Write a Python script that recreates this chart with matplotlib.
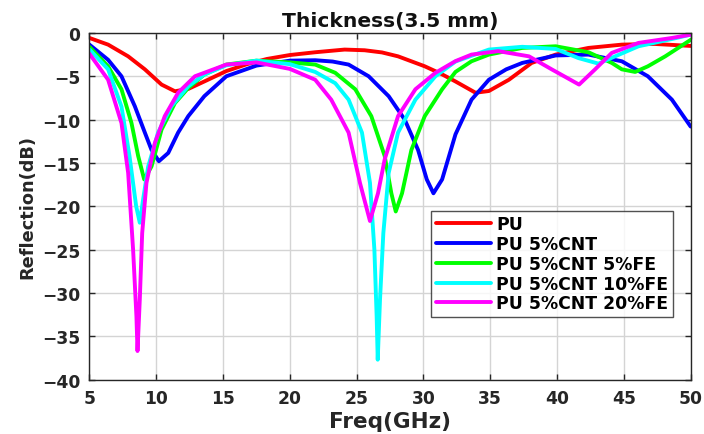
import matplotlib
matplotlib.use("Agg")
import matplotlib.pyplot as plt

plt.rcParams['font.family'] = ['DejaVu Sans']
plt.rcParams['font.weight'] = 'bold'

labels = ["PU", "PU 5%CNT", "PU 5%CNT 5%FE", "PU 5%CNT 10%FE", "PU 5%CNT 20%FE"]
colors = ["#ff0000", "#0000ff", "#00ff00", "#00ffff", "#ff00ff"]

f_pu = [5, 6.4, 7.9, 9.15, 10.4, 11.4, 12.4, 13.6, 15.25, 16.8, 18.3, 20, 21.9, 24.1, 25.6, 26.9, 28.1, 30.1, 31.3, 32.4, 33.9, 34.9, 36.4, 38.1, 39.9, 42.35, 44.85, 47.3, 50]
r_pu = [-0.58, -1.35, -2.7, -4.2, -5.96, -6.73, -6.46, -5.6, -4.4, -3.6, -3.0, -2.55, -2.23, -1.92, -2.0, -2.25, -2.7, -3.85, -4.7, -5.6, -6.9, -6.7, -5.4, -3.46, -2.5, -1.73, -1.35, -1.27, -1.5]

f_cnt = [5, 6.4, 7.4, 8.4, 9.15, 9.65, 10.2, 10.9, 11.64, 12.4, 13.6, 15.25, 17.5, 20, 21.9, 23.2, 24.4, 25.9, 27.4, 28.6, 29.6, 30.25, 30.75, 31.4, 32.4, 33.6, 34.9, 36.2, 37.4, 39.9, 42.35, 44.85, 46.8, 48.6, 50]
r_cnt = [-1.35, -3.1, -5.0, -8.46, -11.5, -13.5, -14.8, -13.85, -11.5, -9.6, -7.3, -5.0, -3.77, -3.2, -3.15, -3.3, -3.65, -5.0, -7.3, -10.0, -13.5, -16.9, -18.5, -16.9, -11.7, -7.7, -5.4, -4.2, -3.46, -2.6, -2.5, -3.27, -5.0, -7.7, -10.8]

f_fe5 = [5, 6.4, 7.4, 8.15, 8.65, 9.1, 9.65, 10.4, 11.4, 12.4, 13.6, 15.25, 17.5, 20, 21.9, 23.4, 24.9, 26.1, 27.1, 27.6, 27.93, 28.4, 29.1, 30.1, 31.4, 32.4, 33.6, 34.9, 37.4, 39.9, 42.35, 44.1, 44.85, 45.85, 46.8, 48.1, 50]
r_fe5 = [-1.6, -3.85, -6.5, -10.4, -14.2, -16.9, -15.4, -11.15, -8.1, -6.35, -4.8, -3.65, -3.2, -3.4, -3.65, -4.6, -6.5, -9.6, -14.2, -18.5, -20.6, -18.5, -13.5, -9.6, -6.5, -4.5, -3.27, -2.5, -1.73, -1.54, -2.23, -3.46, -4.2, -4.5, -3.85, -2.7, -0.8]

f_fe10 = [5, 6.4, 7.4, 8.0, 8.5, 8.77, 9.02, 9.4, 10.14, 11.14, 12.4, 13.6, 15.25, 17.5, 20, 21.9, 23.4, 24.4, 25.4, 26.0, 26.33, 26.5, 26.58, 26.75, 27.0, 27.4, 28.1, 29.4, 30.9, 32.4, 34.9, 37.4, 39.9, 41.6, 43.1, 44.35, 46.1, 48.6, 50]
r_fe10 = [-1.9, -4.2, -8.5, -14.2, -20.0, -21.9, -19.2, -15.4, -11.5, -8.46, -6.15, -4.8, -3.73, -3.2, -3.6, -4.5, -5.8, -7.7, -11.5, -17.3, -25.0, -32.7, -37.7, -30.8, -23.1, -16.15, -11.5, -7.7, -5.0, -3.3, -1.92, -1.6, -1.85, -2.9, -3.54, -2.7, -1.54, -0.7, -0.2]

f_fe20 = [5, 6.4, 7.4, 7.9, 8.27, 8.52, 8.6, 8.77, 8.95, 9.27, 9.9, 10.64, 11.64, 12.9, 15.25, 17.5, 20, 21.9, 23.1, 24.4, 25.25, 26.0, 26.6, 27.1, 28.1, 29.4, 30.9, 32.4, 33.6, 35.6, 37.9, 39.6, 41.65, 42.85, 44.1, 46.1, 48.6, 50]
r_fe20 = [-2.4, -5.4, -10.4, -16.15, -25.0, -32.7, -36.7, -30.8, -23.1, -17.3, -12.7, -9.6, -6.9, -5.0, -3.65, -3.4, -4.15, -5.4, -7.7, -11.5, -17.3, -21.7, -18.5, -14.6, -9.6, -6.5, -4.6, -3.25, -2.5, -2.1, -2.7, -4.2, -5.96, -4.2, -2.3, -1.15, -0.58, -0.2]

series = [(f_pu, r_pu), (f_cnt, r_cnt), (f_fe5, r_fe5), (f_fe10, r_fe10), (f_fe20, r_fe20)]

fig = plt.figure(figsize=(7.04, 4.35), dpi=100)
ax = fig.add_axes([0.127, 0.125, 0.854, 0.797])

for (fx, ry), lab, c in zip(series, labels, colors):
    ax.plot(fx, ry, color=c, lw=2.8, label=lab, solid_joinstyle='round', solid_capstyle='round')

ax.set_xlim(5, 50)
ax.set_ylim(-40, 0)
ax.set_xticks(range(5, 51, 5))
ax.set_yticks(range(-40, 1, 5))
ax.grid(True, color='#d4d4d4', lw=1.0)
ax.set_axisbelow(True)
ax.tick_params(direction='in', top=True, right=True, labelsize=12.3, length=4, width=1,
               pad=6.5, colors='#262626', labelcolor='#262626')
for lab in ax.get_xticklabels() + ax.get_yticklabels():
    lab.set_fontweight('bold')
for sp in ax.spines.values():
    sp.set_color('#262626')
    sp.set_linewidth(1.0)

ax.set_title("Thickness(3.5 mm)", fontsize=14.6, fontweight='bold', pad=4.8, color='#111111')
ax.set_xlabel("Freq(GHz)", fontsize=15.5, fontweight='bold', color='#262626', labelpad=3)
ax.set_ylabel("Reflection(dB)", fontsize=12.8, fontweight='bold', color='#262626', labelpad=4)

leg = ax.legend(loc='upper left', bbox_to_anchor=(0.569, 0.486), frameon=True, fancybox=False,
                edgecolor='#262626', fontsize=12.4, handlelength=3.2, borderpad=0.25,
                labelspacing=0.1, handletextpad=0.3, borderaxespad=0)
leg.get_frame().set_linewidth(1.0)
for t in leg.get_texts():
    t.set_fontweight('bold')

fig.savefig("out.png", dpi=100)
